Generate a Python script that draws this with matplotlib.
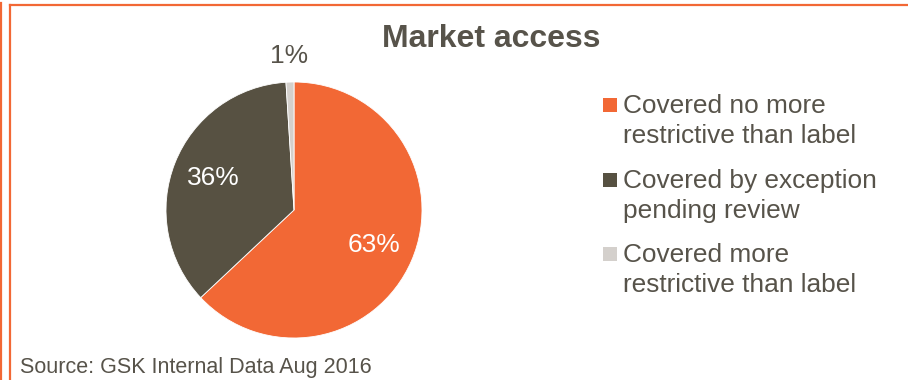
import matplotlib.pyplot as plt
from matplotlib.patches import Rectangle
from matplotlib.lines import Line2D
import numpy as np

plt.rcParams['font.family'] = ['Liberation Sans', 'DejaVu Sans']

# market access split
labels = ['Covered no more\nrestrictive than label',
          'Covered by exception\npending review',
          'Covered more\nrestrictive than label']
shares = [63, 36, 1]
colors = ['#F26835', '#575142', '#D4D0CC']
pct_colors = ['white', 'white', '#57534A']
pct_dist = [0.68, 0.68, 1.2]

txt = '#57534A'
orange = '#F26835'

W, H = 908, 380
fig = plt.figure(figsize=(W / 100, H / 100), dpi=100)


def fy(y):
    # pixel row from top -> figure fraction
    return 1 - y / H


# pie centred at (294, 210) px with radius 128 px
cx, cy, r = 294, 210, 128
ax = fig.add_axes([(cx - r) / W, (H - cy - r) / H, 2 * r / W, 2 * r / H])
wedges, _ = ax.pie(shares, colors=colors, startangle=90, counterclock=False,
                   wedgeprops=dict(edgecolor='white', linewidth=0.6))
ax.set_xlim(-1, 1)
ax.set_ylim(-1, 1)
ax.set_aspect('equal')
ax.axis('off')

for w, v, c, d in zip(wedges, shares, pct_colors, pct_dist):
    a = np.deg2rad((w.theta1 + w.theta2) / 2)
    ax.text(d * np.cos(a), d * np.sin(a), f'{v}%', color=c, fontsize=19,
            ha='center', va='center', clip_on=False)

fig.text(491 / W, fy(47), 'Market access', fontsize=23, fontweight='bold',
         color=txt, ha='center', va='baseline')

# legend: square marker beside first line of each label
baselines = [113, 188, 262]
for b, lab, c in zip(baselines, labels, colors):
    fig.add_artist(Rectangle((603 / W, fy(b - 1)), 14 / W, 14 / H,
                             transform=fig.transFigure, color=c, lw=0))
    for i, line in enumerate(lab.split('\n')):
        fig.text(623 / W, fy(b + 30 * i), line, fontsize=18.9, color=txt,
                 ha='left', va='baseline')

fig.text(20 / W, fy(373), 'Source: GSK Internal Data Aug 2016',
         fontsize=15.5, color=txt, ha='left', va='baseline')

# orange frame lines
for xs, ys in [([1, 1], [3, H]), ([10, 10], [5, H]), ([10, W], [5, 5])]:
    fig.add_artist(Line2D([x / W for x in xs], [fy(y) for y in ys],
                          transform=fig.transFigure, color=orange, lw=1.6))

fig.savefig('out.png', dpi=100)
